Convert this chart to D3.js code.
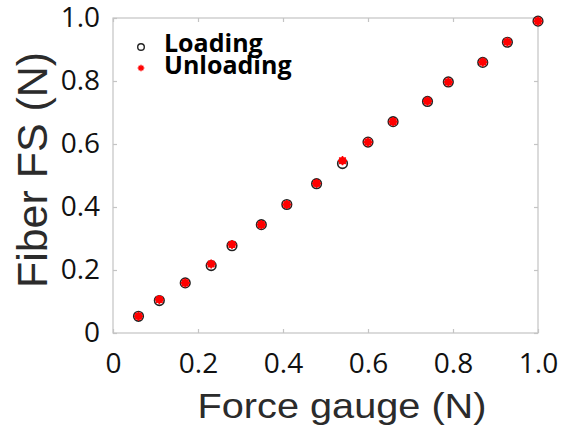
<!DOCTYPE html>
<html>
<head>
<meta charset="utf-8">
<script src="https://cdn.jsdelivr.net/npm/d3@7"></script>
<style>
  body { margin: 0; background: #fff; }
  svg { display: block; }
</style>
</head>
<body>
<svg id="chart" width="561" height="428"></svg>
<script>
// values
var forceGauge = [0.06, 0.109, 0.17, 0.231, 0.28, 0.349, 0.409, 0.479, 0.54, 0.6, 0.659, 0.74, 0.789, 0.87, 0.928, 1.0];
var loading    = [0.053, 0.103, 0.159, 0.214, 0.277, 0.344, 0.408, 0.474, 0.538, 0.606, 0.671, 0.735, 0.797, 0.859, 0.923, 0.99];
var unloading  = [0.053, 0.106, 0.159, 0.219, 0.281, 0.344, 0.408, 0.475, 0.547, 0.606, 0.671, 0.736, 0.797, 0.86, 0.924, 0.99];
var xTicks = [0, 0.2, 0.4, 0.6, 0.8, 1.0];
var yTicks = [0, 0.2, 0.4, 0.6, 0.8, 1.0];
var legendNames = ["Loading", "Unloading"];

var svg = d3.select("#chart");
var plotL = 113, plotR = 538, plotT = 18, plotB = 333;

var x = d3.scaleLinear().domain([0, 1]).range([plotL, plotR]);
var y = d3.scaleLinear().domain([0, 1]).range([plotB, plotT]);

function fmt(d) { return d === 0 ? "0" : d.toFixed(1); }

// frame box
svg.append("rect")
    .attr("x", plotL).attr("y", plotT)
    .attr("width", plotR - plotL).attr("height", plotB - plotT)
    .attr("fill", "none").attr("stroke", "#c4c4c4").attr("stroke-width", 1.2);

// axes with inward ticks
var xAxis = svg.append("g").attr("transform", `translate(0,${plotB})`)
    .call(d3.axisBottom(x).tickValues(xTicks).tickSize(-4).tickPadding(20).tickFormat(fmt));
var xTop = svg.append("g").attr("transform", `translate(0,${plotT})`)
    .call(d3.axisTop(x).tickValues(xTicks).tickSize(-4).tickFormat(""));
var yAxis = svg.append("g").attr("transform", `translate(${plotL},0)`)
    .call(d3.axisLeft(y).tickValues(yTicks).tickSize(-4).tickPadding(13).tickFormat(fmt));
var yRight = svg.append("g").attr("transform", `translate(${plotR},0)`)
    .call(d3.axisRight(y).tickValues(yTicks).tickSize(-4).tickFormat(""));

[xAxis, xTop, yAxis, yRight].forEach(function (g) {
    g.select(".domain").remove();
    g.selectAll(".tick line").attr("stroke", "#c4c4c4").attr("stroke-width", 1.2);
});
[xAxis, yAxis].forEach(function (g) {
    g.selectAll(".tick text")
        .attr("font-family", "'Open Sans', sans-serif")
        .attr("font-size", 28)
        .attr("fill", "#111");
});
xAxis.selectAll(".tick text").attr("dy", "0.71em");

// axis titles
svg.append("text")
    .attr("x", 342).attr("y", 418)
    .attr("text-anchor", "middle")
    .attr("font-family", "'Liberation Sans', Arial, sans-serif")
    .attr("font-size", 35)
    .attr("textLength", 289).attr("lengthAdjust", "spacingAndGlyphs")
    .attr("fill", "#2b2b2b")
    .text("Force gauge (N)");

svg.append("text")
    .attr("transform", "translate(47,170) rotate(-90)")
    .attr("text-anchor", "middle")
    .attr("font-family", "'Liberation Sans', Arial, sans-serif")
    .attr("font-size", 42)
    .attr("textLength", 236).attr("lengthAdjust", "spacingAndGlyphs")
    .attr("fill", "#2b2b2b")
    .text("Fiber FS (N)");

// asterisk path
function star(r) {
    var d = r * Math.SQRT1_2;
    return `M${-r},0L${r},0M0,${-r}L0,${r}M${-d},${-d}L${d},${d}M${-d},${d}L${d},${-d}`;
}

// data points
var pts = svg.append("g");
pts.selectAll("circle.load")
    .data(forceGauge)
    .enter().append("circle")
    .attr("class", "load")
    .attr("cx", d => x(d))
    .attr("cy", (d, i) => y(loading[i]))
    .attr("r", 4.8)
    .attr("fill", "none")
    .attr("stroke", "#222")
    .attr("stroke-width", 1.6);

pts.selectAll("circle.unfill")
    .data(forceGauge)
    .enter().append("circle")
    .attr("class", "unfill")
    .attr("cx", d => x(d))
    .attr("cy", (d, i) => y(unloading[i]))
    .attr("r", 3.8)
    .attr("fill", "#ff0000");

pts.selectAll("path.unload")
    .data(forceGauge)
    .enter().append("path")
    .attr("class", "unload")
    .attr("transform", (d, i) => `translate(${x(d)},${y(unloading[i])})`)
    .attr("d", star(4.6))
    .attr("stroke", "#ff0000")
    .attr("stroke-width", 1.6)
    .attr("fill", "none");

// legend
var legend = svg.append("g");
legend.append("circle")
    .attr("cx", 141).attr("cy", 47).attr("r", 3.3)
    .attr("fill", "none").attr("stroke", "#222").attr("stroke-width", 1.4);
legend.append("path")
    .attr("transform", "translate(141,68)")
    .attr("d", star(3.3))
    .attr("stroke", "#ff0000").attr("stroke-width", 1.4);
legend.selectAll("text")
    .data(legendNames)
    .enter().append("text")
    .attr("x", 164)
    .attr("y", (d, i) => 52 + i * 21.5)
    .attr("font-family", "'Open Sans', sans-serif")
    .attr("font-weight", "bold")
    .attr("font-size", 25)
    .attr("fill", "#000")
    .text(d => d);
</script>
</body>
</html>
